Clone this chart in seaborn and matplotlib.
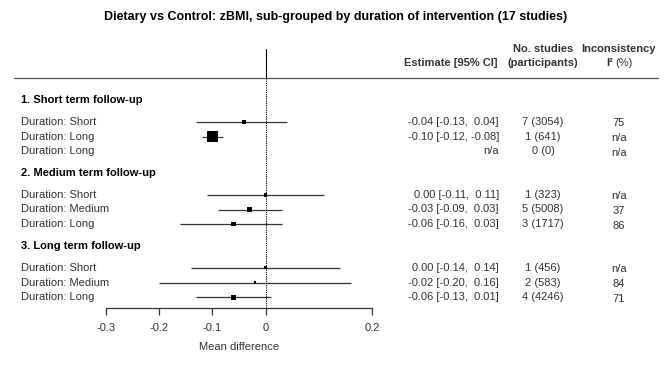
import matplotlib
matplotlib.use("Agg")
import matplotlib.pyplot as plt
import matplotlib.transforms as mtransforms
import numpy as np
import pandas as pd
import seaborn as sns

# ----- data ------------------------------------------------------------------
TITLE = "Dietary vs Control: zBMI, sub-grouped by duration of intervention (17 studies)"
GROUPS = ["1. Short term follow-up", "2. Medium term follow-up", "3. Long term follow-up"]
ROW_GROUP = [0, 0, 0, 1, 1, 1, 2, 2, 2]
ROW_LABELS = ["Duration: Short", "Duration: Long", "Duration: Long",
              "Duration: Short", "Duration: Medium", "Duration: Long",
              "Duration: Short", "Duration: Medium", "Duration: Long"]
EST = [-0.04, -0.10, np.nan, 0.00, -0.03, -0.06, 0.00, -0.02, -0.06]
LO = [-0.13, -0.12, np.nan, -0.11, -0.09, -0.16, -0.14, -0.20, -0.13]
HI = [0.04, -0.08, np.nan, 0.11, 0.03, 0.03, 0.14, 0.16, 0.01]
N_STUDIES = [7, 1, 0, 1, 5, 3, 1, 2, 4]
N_PART = [3054, 641, 0, 323, 5008, 1717, 456, 583, 4246]
I2 = ["75", "n/a", "n/a", "n/a", "37", "86", "n/a", "84", "71"]
XTICKS = [-0.3, -0.2, -0.1, 0, 0.2]
XTICKLABELS = ["-0.3", "-0.2", "-0.1", "0", "0.2"]

# marker size (points^2) per row, style only
MSIZE = [9, 60, 0, 7, 12, 10, 5, 3, 12]

sns.set_theme(style="white")
plt.rcParams["font.family"] = ["Liberation Sans", "DejaVu Sans"]
plt.rcParams["font.size"] = 8

# ----- layout ----------------------------------------------------------------
ypos, hpos = [], []
u = 0.0
for g in range(len(GROUPS)):
    hpos.append(u)
    u += 1.5
    for r, rg in enumerate(ROW_GROUP):
        if rg == g:
            ypos.append(u)
            u += 1.0
    u += 0.5

df = pd.DataFrame({"y": ypos, "est": EST, "lo": LO, "hi": HI, "ms": MSIZE})

W, H = 672, 373
fig = plt.figure(figsize=(W / 100, H / 100), dpi=100)
px0, px1 = 106, 372      # x=-0.3 .. 0.2
py_top, py_bot = 40, 308
ax = fig.add_axes([px0 / W, 1 - py_bot / H, (px1 - px0) / W, (py_bot - py_top) / H])
ax.set_xlim(-0.3, 0.2)
pitch = 14.6
ax.set_ylim(hpos[0] + (py_bot - 100) / pitch, hpos[0] - (100 - py_top) / pitch)

# confidence intervals
ok = df.dropna()
ax.hlines(ok.y, ok.lo, ok.hi, color="#333333", lw=0.9, zorder=2)
sns.scatterplot(data=ok, x="est", y="y", size="ms", sizes=(ok.ms.min(), ok.ms.max()),
                marker="s", color="black", edgecolor="black", linewidth=0,
                legend=False, ax=ax, zorder=3)

# zero line: solid above the separator, dotted below
sep_u = hpos[0] - (100 - 78) / pitch
ax.plot([0, 0], [hpos[0] - (100 - 49) / pitch, sep_u], color="black", lw=0.8)
ax.plot([0, 0], [sep_u, ax.get_ylim()[0]], color="black", lw=0.8, ls=(0, (1, 1)))

# separator line across the figure
trans_fy = mtransforms.blended_transform_factory(fig.transFigure, ax.transData)
ax.plot([14 / W, 658 / W], [sep_u, sep_u], color="#555555", lw=0.9,
        transform=trans_fy, clip_on=False)

# axis
for s in ["top", "right", "left"]:
    ax.spines[s].set_visible(False)
ax.spines["bottom"].set_color("#333333")
ax.spines["bottom"].set_linewidth(0.9)
ax.spines["bottom"].set_bounds(-0.3, 0.2)
ax.set_yticks([])
ax.set_xticks(XTICKS)
ax.set_xticklabels(XTICKLABELS, color="#333333")
ax.tick_params(axis="x", bottom=True, length=5, width=0.9, color="#333333",
               pad=6, labelsize=8)
ax.set_xlabel("Mean difference", fontsize=8, color="#333333", labelpad=6)
ax.set_ylabel("")
ax.grid(False)

# left labels
tc = "#333333"
for g, hy in zip(GROUPS, hpos):
    ax.text(21 / W, hy, g, transform=trans_fy, ha="left", va="center",
            fontweight="bold", color="black", fontsize=8)
for lab, y in zip(ROW_LABELS, ypos):
    ax.text(21 / W, y, lab, transform=trans_fy, ha="left", va="center", color=tc)

# right columns
x_est, x_n, x_i2 = 499 / W, 543 / W, 619 / W
for y, e, lo, hi, ns, npt, i2 in zip(ypos, EST, LO, HI, N_STUDIES, N_PART, I2):
    if np.isnan(e):
        est_txt = "n/a"
    else:
        est_txt = f"{e:.2f} [{lo:.2f}, {' ' if hi >= 0 else ''}{hi:.2f}]"
        est_txt = est_txt.replace("-0.00", "0.00")
    ax.text(x_est, y, est_txt, transform=trans_fy, ha="right", va="center", color=tc)
    ax.text(x_n, y, f"{ns} ({npt})", transform=trans_fy, ha="center", va="center", color=tc)
    ax.text(x_i2, y + 0.1, i2, transform=trans_fy, ha="center", va="center", color=tc)

# headers
u2 = hpos[0] - (100 - 63) / pitch
u1 = hpos[0] - (100 - 49) / pitch
ax.text(497 / W, u2, "Estimate [95% CI]", transform=trans_fy, ha="right", va="center",
        fontweight="bold", color=tc)
ax.text(x_n, u1, "No. studies", transform=trans_fy, ha="center", va="center",
        fontweight="bold", color=tc)
ax.text(x_n, u2, "(participants)", transform=trans_fy, ha="center", va="center",
        fontweight="bold", color=tc)
ax.text(x_i2, u1, "Inconsistency", transform=trans_fy, ha="center", va="center",
        fontweight="bold", color=tc)
ax.text(613 / W, u2, "I\u00b2", transform=trans_fy, ha="right", va="center",
        fontweight="bold", color=tc)
ax.text(615 / W, u2, "(%)", transform=trans_fy, ha="left", va="center", color=tc)

fig.text(336 / W, 1 - 17 / H, TITLE, ha="center", va="center", fontweight="bold",
         fontsize=9, color="black")

fig.savefig("out.png", dpi=100)
